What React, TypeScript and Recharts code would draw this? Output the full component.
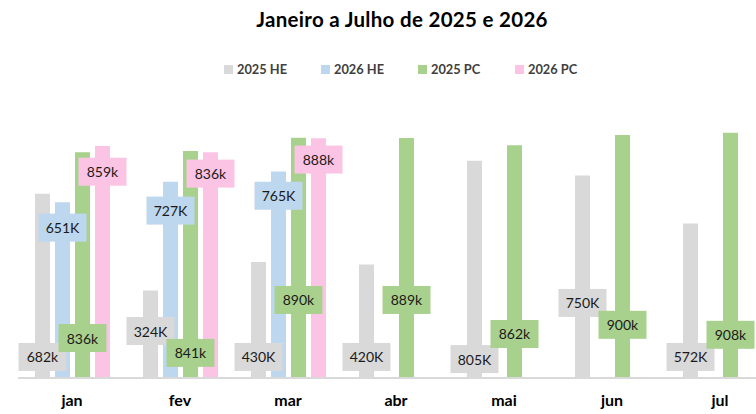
import React from 'react';
import { BarChart, Bar, XAxis, YAxis, LabelList } from 'recharts';

const months = ['jan', 'fev', 'mar', 'abr', 'mai', 'jun', 'jul'];
const he2025 = [682, 324, 430, 420, 805, 750, 572];
const he2026 = [651, 727, 765, null, null, null, null];
const pc2025 = [836, 841, 890, 889, 862, 900, 908];
const pc2026 = [859, 836, 888, null, null, null, null];

const he2025Text = ['682k', '324K', '430K', '420K', '805K', '750K', '572K'];
const he2026Text = ['651K', '727K', '765K', '', '', '', ''];
const pc2025Text = ['836k', '841k', '890k', '889k', '862k', '900k', '908k'];
const pc2026Text = ['859k', '836k', '888k', '', '', '', ''];

// value level (in data units) where each label box is centred
const he2025LabelAt = [78, 174, 78, 78, 70, 278, 78];
const he2026LabelAt = [557, 620, 675, 0, 0, 0, 0];
const pc2025LabelAt = [148, 93, 289, 289, 163, 197, 160];
const pc2026LabelAt = [764, 757, 809, 0, 0, 0, 0];

const series = [
  { key: 'he2025', name: '2025 HE', values: he2025, text: he2025Text, at: he2025LabelAt, color: '#D9D9D9' },
  { key: 'he2026', name: '2026 HE', values: he2026, text: he2026Text, at: he2026LabelAt, color: '#BDD7EE' },
  { key: 'pc2025', name: '2025 PC', values: pc2025, text: pc2025Text, at: pc2025LabelAt, color: '#A9D18E' },
  { key: 'pc2026', name: '2026 PC', values: pc2026, text: pc2026Text, at: pc2026LabelAt, color: '#FBC4E4' },
];

const data = months.map((m, i) => {
  const row: any = { month: m };
  series.forEach((s) => {
    row[s.key] = s.values[i];
  });
  return row;
});

const FONT = 'Lato, "Open Sans", sans-serif';

function makeLabel(s: any) {
  return (props: any) => {
    const { x, y, width, height, index, value } = props;
    if (value == null || !s.text[index]) return null;
    const base = Number(y) + Number(height);
    const perUnit = Number(height) / Number(value);
    const cy = base - s.at[index] * perUnit;
    const cx = Number(x) + Number(width) / 2;
    const w = 48;
    const h = 28;
    return (
      <g>
        <rect x={cx - w / 2} y={cy - h / 2} width={w} height={h} fill={s.color} />
        <text
          x={cx}
          y={cy}
          textAnchor="middle"
          dominantBaseline="central"
          fontFamily={FONT}
          fontSize={14}
          fill="#1a1a1a"
        >
          {s.text[index]}
        </text>
      </g>
    );
  };
}

const legendX = [224, 321, 418, 515];

export default function App() {
  return (
    <div
      style={{
        position: 'absolute',
        left: 0,
        top: 0,
        width: 756,
        height: 414,
        overflow: 'hidden',
        background: '#fff',
      }}
    >
      <div
        style={{
          position: 'absolute',
          left: 0,
          top: 6,
          width: 804,
          textAlign: 'center',
          fontFamily: FONT,
          fontWeight: 700,
          fontSize: 20.5,
          letterSpacing: 0.3,
          lineHeight: '26px',
          color: '#000',
        }}
      >
        Janeiro a Julho de 2025 e 2026
      </div>
      {series.map((s, i) => (
        <div
          key={s.key}
          style={{
            position: 'absolute',
            left: legendX[i],
            top: 61,
            height: 16,
            display: 'flex',
            alignItems: 'center',
            fontFamily: FONT,
            fontWeight: 700,
            fontSize: 12.8,
            color: '#404040',
          }}
        >
          <span style={{ display: 'inline-block', width: 9, height: 9, background: s.color, marginRight: 4 }} />
          <span>{s.name}</span>
        </div>
      ))}
      <div style={{ position: 'absolute', left: 0, top: 0 }}>
        <BarChart
          width={800}
          height={414}
          data={data}
          margin={{ top: 108, right: 26, bottom: 6, left: 18 }}
          barSize={15}
          barGap={5}
        >
          <XAxis
            dataKey="month"
            axisLine={{ stroke: '#D9D9D9', strokeWidth: 2 }}
            tickLine={false}
            tickMargin={11}
            height={30}
            interval={0}
            tick={{ fontFamily: FONT, fontWeight: 700, fontSize: 16, fill: '#000' }}
          />
          <YAxis hide domain={[0, 1000]} />
          {series.map((s) => (
            <Bar key={s.key} dataKey={s.key} name={s.name} fill={s.color} isAnimationActive={false}>
              <LabelList dataKey={s.key} content={makeLabel(s)} />
            </Bar>
          ))}
        </BarChart>
      </div>
    </div>
  );
}
